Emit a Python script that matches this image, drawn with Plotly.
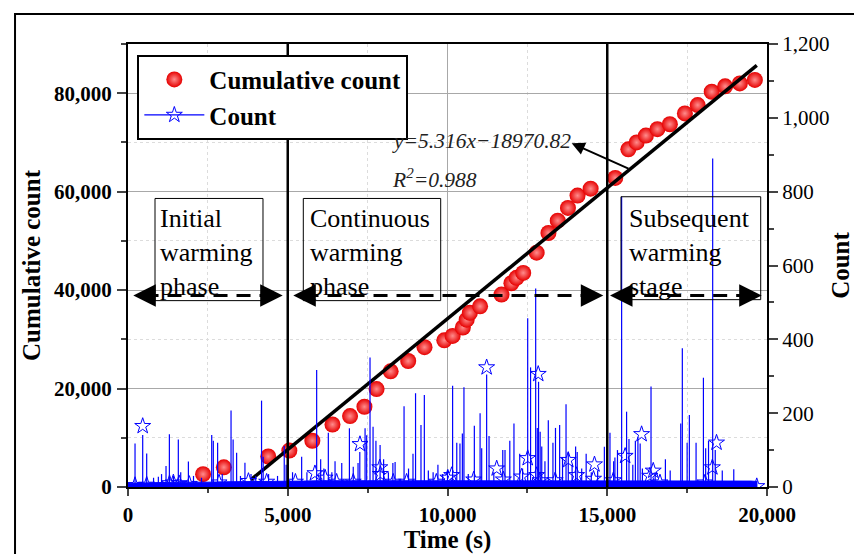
import plotly.graph_objects as go

# ---------------- data ----------------
cum_time = [2350, 3000, 4390, 5050, 5770, 6400, 6950, 7400, 7780, 8220, 8770, 9280,
            9900, 10160, 10480, 10600, 10700, 11020, 11690, 12000, 12160, 12370,
            12790, 13160, 13450, 13770, 14070, 14480, 15250, 15660, 15920, 16210,
            16570, 16960, 17430, 17830, 18270, 18690, 19150, 19620]
cum_value = [2600, 4000, 6200, 7400, 9400, 12700, 14400, 16300, 19900, 23500, 25600, 28400,
             29800, 30700, 32400, 34000, 35400, 36700, 39100, 41400, 42500, 43500,
             47600, 51600, 54100, 56700, 59200, 60600, 62800, 68600, 70000, 71400,
             72700, 73700, 75900, 77600, 80300, 81400, 82000, 82700]

fit_slope = 5.316
fit_intercept = -18970.82
fit_time = [3840, 19680]

spike_time = [220, 460, 585, 800, 950, 1050, 1190, 1295, 1420, 1575, 1650, 1890, 2050, 2300,
              2620, 2670, 2805, 2950, 3225, 3290, 3400, 3520, 3660, 3850, 4000, 4180, 4230,
              4400, 4680, 4890, 4950, 5150, 5435, 5600, 5905, 6030, 6130, 6270, 6380, 6480,
              6690, 6930, 7050, 7200, 7255, 7420, 7470, 7575, 7670, 7760, 7890, 8000, 8150,
              8290, 8360, 8640, 8780, 8920, 9000, 9170, 9275, 9400, 9550, 9700, 9850, 10000,
              10160, 10290, 10390, 10465, 10515, 10650, 10840, 11020, 11070, 11225, 11300,
              11450, 11730, 11800, 11950, 12080, 12260, 12350, 12510, 12600, 12760, 12810,
              12850, 12900, 12950, 13050, 13155, 13300, 13380, 13510, 13600, 13710, 13780,
              13900, 14010, 14060, 14200, 14340, 14500, 14700, 14910, 15085, 15200, 15240,
              15320, 15450, 15605, 15680, 15800, 15880, 15960, 16030, 16100, 16370, 16500,
              16820, 16970, 17300, 17350, 17500, 17570, 17780, 18010, 18080, 18170, 18300,
              18380, 18600, 18960]
spike_value = [118, 141, 91, 25, 28, 35, 57, 143, 30, 129, 40, 69, 30, 25,
               141, 125, 120, 35, 207, 129, 93, 30, 66, 35, 30, 234, 82,
               35, 30, 111, 60, 40, 82, 40, 317, 75, 50, 147, 40, 70,
               65, 159, 55, 65, 95, 159, 140, 351, 163, 125, 114, 75, 40,
               65, 68, 219, 50, 90, 254, 168, 249, 45, 40, 60, 35, 45,
               274, 120, 118, 145, 270, 35, 166, 200, 105, 305, 138,
               40, 100, 100, 125, 172, 90, 50, 457, 324, 538, 160,
               285, 150, 110, 70, 181, 120, 160, 168, 80, 224, 95,
               60, 110, 95, 50, 90, 40, 45, 109, 147, 70, 80,
               100, 786, 204, 130, 60, 125, 135, 118, 50, 272, 40,
               75, 45, 172, 376, 120, 195, 120, 296, 105, 125, 890,
               100, 45, 48]

base_time = [0, 500, 1000, 1500, 2000, 2500, 3000, 3500, 4000, 4500, 5000, 5500, 6000,
             6500, 7000, 7500, 8000, 8500, 9000, 9500, 10000, 10500, 11000, 11500, 12000,
             12500, 13000, 13500, 14000, 14500, 15000, 15500, 16000, 16500, 17000, 17500,
             18000, 18500, 19000, 19500, 19700]
base_value = [10, 12, 12, 13, 12, 13, 14, 14, 15, 15, 16, 16, 17, 16, 17, 17, 17, 16, 17,
              17, 18, 18, 17, 18, 18, 18, 17, 18, 18, 17, 17, 17, 17, 16, 17, 17, 17,
              17, 16, 16, 15]

star_time = [220, 460, 585, 1300, 1420, 1600, 1920, 2850, 3770, 4340, 5240, 5850, 6170,
             6530, 7050, 7260, 7880, 7900, 8300, 8720, 9650, 10010, 10130, 10820, 11225,
             11540, 11750, 12320, 12510, 12790, 12840, 12900, 13370, 13780, 14040, 14570,
             14600, 15190, 15560, 16075, 16330, 16440, 16650, 18060, 18290, 18420, 19680]
star_value = [5, 165, 6, 10, 12, 10, 8, 12, 16, 14, 14, 37, 25,
              14, 14, 116, 53, 35, 14, 14, 14, 25, 32, 20, 324,
              50, 20, 28, 78, 32, 306, 18, 18, 73, 32, 22,
              61, 18, 84, 143, 30, 44, 12, 12, 53, 120, 2]

phase_labels = ["Initial<br>warming<br>phase", "Continuous<br>warming<br>phase",
                "Subsequent<br>warming<br>stage"]

# ---------------- style ----------------
SERIF = "Liberation Serif"
BLUE = "#0000ff"

fig = go.Figure()

# baseline band of counts
fig.add_trace(go.Scatter(x=base_time, y=base_value, mode="lines", fill="tozeroy",
                         fillcolor=BLUE, line=dict(color=BLUE, width=1),
                         yaxis="y2", showlegend=False, hoverinfo="skip"))

# count spikes
sx, sy = [], []
for t, v in zip(spike_time, spike_value):
    sx += [t, t, None]
    sy += [0, v, None]
fig.add_trace(go.Scatter(x=sx, y=sy, mode="lines", line=dict(color=BLUE, width=1.2),
                         yaxis="y2", showlegend=False, connectgaps=False))

# count star symbols (isolated points, legend shows line + star)
stx, sty = [], []
for t, v in zip(star_time, star_value):
    stx += [t, None]
    sty += [v, None]
fig.add_trace(go.Scatter(x=stx, y=sty, mode="lines+markers", name="Count",
                         line=dict(color=BLUE, width=1.2), connectgaps=False,
                         marker=dict(symbol="star-open", size=12, color=BLUE,
                                     line=dict(color=BLUE, width=1)),
                         yaxis="y2", legendrank=2))

# cumulative count
fig.add_trace(go.Scatter(x=cum_time, y=cum_value, mode="markers", name="Cumulative count",
                         marker=dict(size=16, color="#e60000",
                                     gradient=dict(type="radial", color="#ff8c8c"),
                                     line=dict(width=0)),
                         legendrank=1))

# fit line
fit_y = [fit_slope * t + fit_intercept for t in fit_time]
fig.add_trace(go.Scatter(x=fit_time, y=fit_y, mode="lines", line=dict(color="black", width=3.5),
                         showlegend=False))

shapes = []
# outer frame
shapes.append(dict(type="rect", xref="paper", yref="paper", x0=-0.1768, x1=1.6,
                   y0=-0.6, y1=1.0677, line=dict(color="black", width=2)))
# phase separators
for xv in [5000, 15000]:
    shapes.append(dict(type="line", xref="x", yref="paper", x0=xv, x1=xv, y0=0, y1=1,
                       line=dict(color="black", width=2.5)))
# phase label boxes
boxes = [(845, 4225, 37860, 58620), (5487, 9787, 37860, 58620), (15430, 19803, 38060, 58970)]
for x0, x1, y0, y1 in boxes:
    shapes.append(dict(type="rect", xref="x", yref="y", x0=x0, x1=x1, y0=y0, y1=y1,
                       line=dict(color="black", width=1)))
# dashed phase arrows
arrow_y = 38900
spans = [(167, 4842), (5175, 14876), (15086, 19834)]
for a, b in spans:
    shapes.append(dict(type="line", xref="x", yref="y", x0=a + 350, x1=b - 350,
                       y0=arrow_y, y1=arrow_y,
                       line=dict(color="black", width=3, dash="14px,9px")))

annotations = []
for a, b in spans:
    for tip, tail in [(a, a + 550), (b, b - 550)]:
        annotations.append(dict(x=tip, y=arrow_y, ax=tail, ay=arrow_y, axref="x", ayref="y",
                                xref="x", yref="y", text="", showarrow=True, arrowhead=2,
                                arrowsize=1.8, arrowwidth=2.5, arrowcolor="black"))

label_x = [940, 5634, 15610]
for txt, lx in zip(phase_labels, label_x):
    annotations.append(dict(x=lx, y=58000, xref="x", yref="y", text=txt, showarrow=False,
                            xanchor="left", yanchor="top", align="left",
                            font=dict(family=SERIF, size=26, color="black")))

annotations.append(dict(x=8200, y=70300, xref="x", yref="y", showarrow=False,
                        text="<i>y=5.316x\u221218970.82</i>", xanchor="left", yanchor="middle",
                        font=dict(family=SERIF, size=21.5, color="#222222")))
annotations.append(dict(x=8200, y=62600, xref="x", yref="y", showarrow=False,
                        text="<i>R<sup>2</sup>=0.988</i>", xanchor="left", yanchor="middle",
                        font=dict(family=SERIF, size=21.5, color="#222222")))
annotations.append(dict(x=13887, y=69822, ax=15712, ay=64529, axref="x", ayref="y",
                        xref="x", yref="y", text="", showarrow=True, arrowhead=2,
                        arrowsize=1.3, arrowwidth=2, arrowcolor="black"))

bold_tick = dict(family=SERIF, size=21, color="black", weight="bold")
title_font = dict(family=SERIF, size=25, color="black", weight="bold")

fig.update_layout(
    width=854, height=554, autosize=False,
    margin=dict(l=128, r=87, t=44, b=67),
    paper_bgcolor="white", plot_bgcolor="white",
    font=dict(family=SERIF, color="black"),
    shapes=shapes, annotations=annotations,
    legend=dict(x=0.0146, y=0.976, xanchor="left", yanchor="top",
                bgcolor="white", bordercolor="black", borderwidth=2,
                font=dict(family=SERIF, size=25, color="black", weight="bold"),
                itemwidth=60, tracegroupgap=0),
    xaxis=dict(range=[0, 20000], dtick=5000, tickformat=",d", showline=True, linecolor="black",
               linewidth=2, mirror=True, ticks="outside", ticklen=7, tickwidth=2,
               tickfont=bold_tick, showgrid=True, gridcolor="#a8a8a8", gridwidth=1,
               zeroline=False, automargin=False, ticklabelstandoff=1,
               minor=dict(dtick=2500, ticks="outside", ticklen=4, tickwidth=2, showgrid=True,
                          gridcolor="#dcdcdc", griddash="dot"),
               title=dict(text="Time (s)", font=title_font, standoff=7)),
    yaxis=dict(range=[0, 90000], dtick=20000, tickformat=",d", showline=True, linecolor="black",
               linewidth=2, ticks="outside", ticklen=9, tickwidth=2, tickfont=bold_tick,
               showgrid=True, gridcolor="#a8a8a8", gridwidth=1, zeroline=False,
               automargin=False, ticklabelstandoff=1,
               minor=dict(dtick=10000, ticks="outside", ticklen=5, tickwidth=2, showgrid=True,
                          gridcolor="#dcdcdc", griddash="dot"),
               title=dict(text="Cumulative count", font=title_font, standoff=6)),
    yaxis2=dict(range=[0, 1200], dtick=200, tickformat=",d", overlaying="y", side="right",
                showline=True, linecolor="black", linewidth=2, ticks="outside", ticklen=9,
                tickwidth=2, showgrid=False, zeroline=False, automargin=False,
                tickfont=dict(family=SERIF, size=21, color="black"),
                minor=dict(dtick=100, ticks="outside", ticklen=5, tickwidth=2),
                title=dict(text="Count", font=title_font, standoff=4)),
)

fig.write_html("out.html")
